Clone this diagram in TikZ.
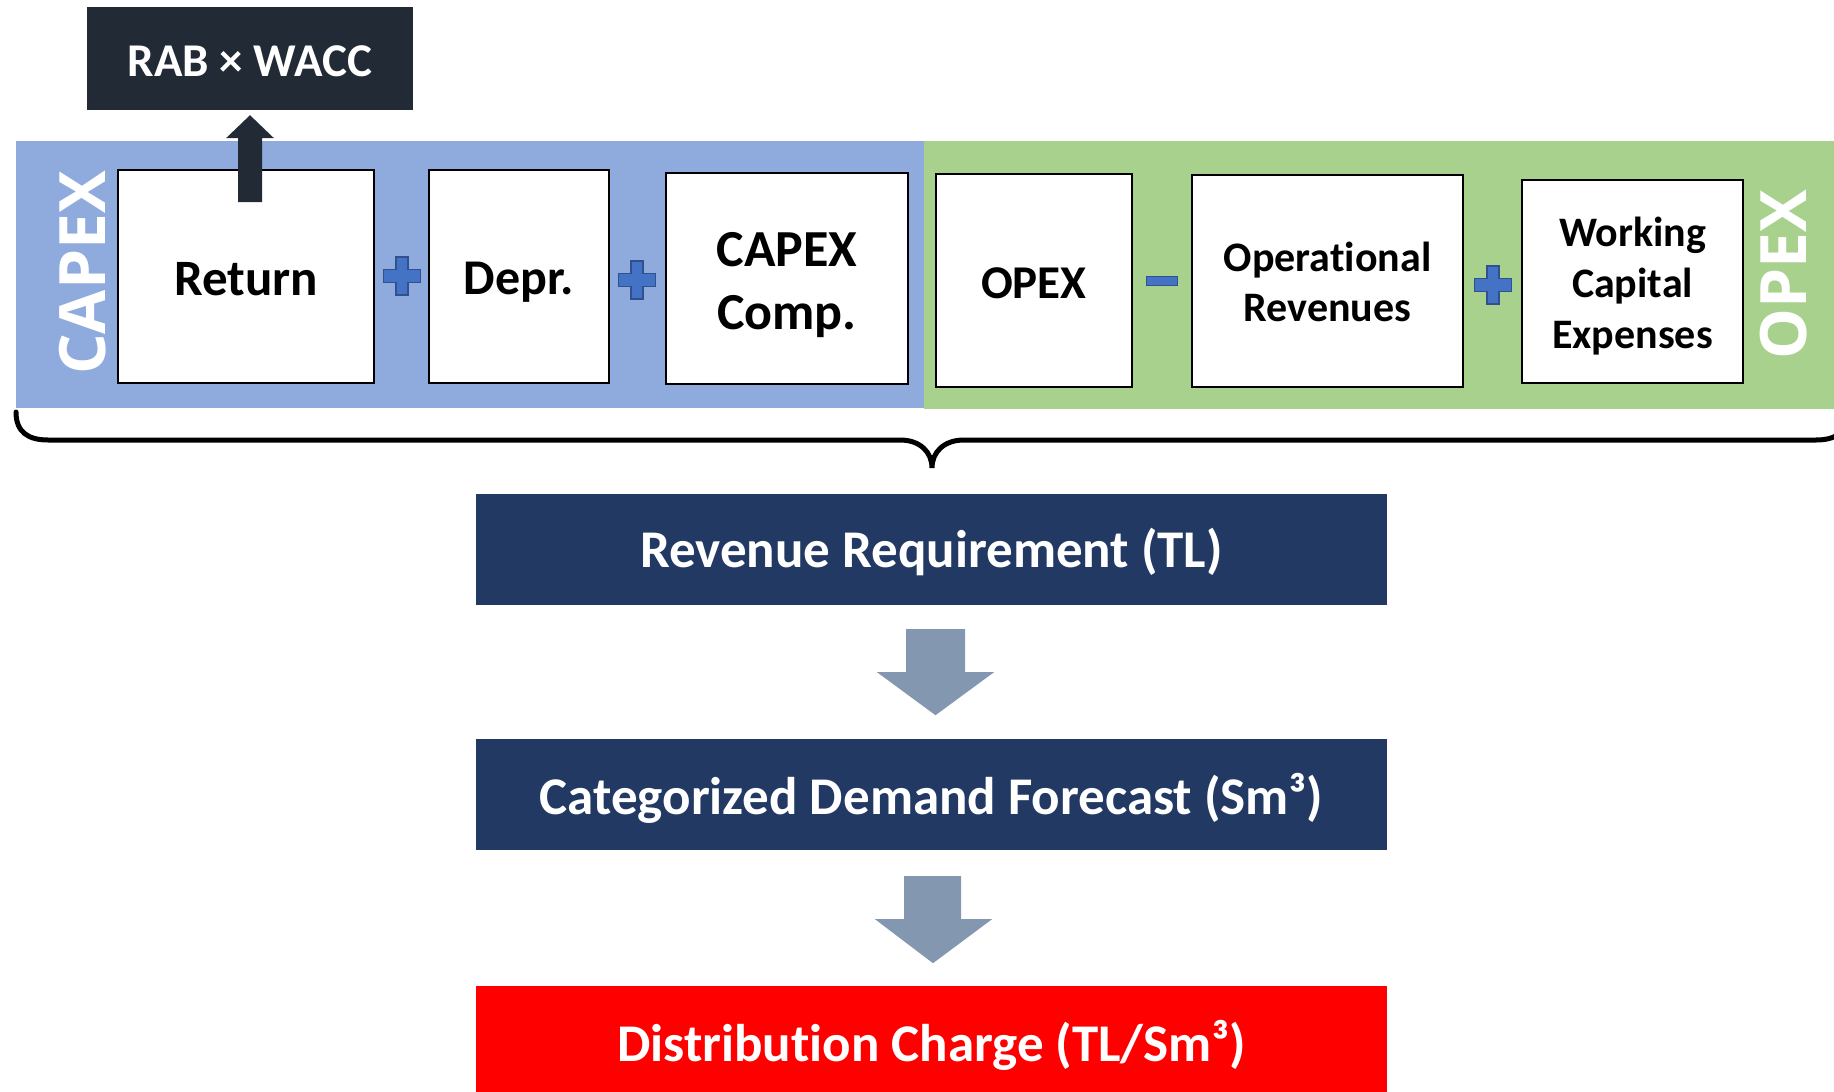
\documentclass[tikz,border=0pt]{standalone}
\usepackage{fontspec}
\setmainfont{Carlito}[Ligatures=NoCommon]
\newfontfamily\labelfont{Open Sans}
\usetikzlibrary{calc}

\definecolor{capexblue}{HTML}{8FAADC}
\definecolor{opexgreen}{HTML}{A9D18E}
\definecolor{navy}{HTML}{223963}
\definecolor{darkslate}{HTML}{222A35}
\definecolor{arrowgray}{HTML}{8497B0}
\definecolor{plusfill}{HTML}{4472C4}
\definecolor{plusedge}{HTML}{2F528F}
\definecolor{chargered}{HTML}{FF0000}

\tikzset{
  termbox/.style={draw=black, line width=2.5pt, fill=white, inner sep=0pt},
  termtext/.style={inner sep=0pt, align=center},
  flowbox/.style={fill=navy, minimum width=911pt, minimum height=111pt, inner sep=0pt},
  flowtext/.style={text=white, inner sep=0pt,
    font=\fontsize{53pt}{64pt}\selectfont\bfseries},
  sidelabel/.style={text=white, rotate=90, inner sep=0pt,
    font=\labelfont\bfseries\fontsize{64pt}{64pt}\selectfont},
  blockarrow/.style={fill=arrowgray},
  brace line/.style={draw=black, line width=5pt, line cap=round},
  plussign/.pic={
    \filldraw[fill=plusfill, draw=plusedge, line width=1.5pt]
      (-6,-19) -- (6,-19) -- (6,-6.5) -- (18.5,-6.5) -- (18.5,6.5) -- (6,6.5)
      -- (6,19) -- (-6,19) -- (-6,6.5) -- (-18.5,6.5) -- (-18.5,-6.5)
      -- (-6,-6.5) -- cycle;
  },
  minussign/.pic={
    \filldraw[fill=plusfill, draw=plusedge, line width=1.5pt]
      (-15.5,-4.5) rectangle (15.5,4.5);
  }
}

\begin{document}
\begin{tikzpicture}[x=1pt, y=-1pt]
  \clip (0,0) rectangle (1834,1092);
  \fill[white] (0,0) rectangle (1834,1092);

  % cost bands
  \fill[capexblue] (16,141) rectangle (924,408);
  \fill[opexgreen] (924,141) rectangle (1834,409);

  \node[sidelabel] (capexlbl) at (83,273) {CAPEX};
  \node[sidelabel] (opexlbl) at (1784,275) {OPEX};

  % capital cost components
  \node[termbox, minimum width=256pt, minimum height=213pt] (ret) at (246,276.5) {};
  \node[termtext, font=\fontsize{51pt}{61pt}\selectfont\bfseries] (ret-t)
    at ($(ret.center)+(0,2.5)$) {Return};
  \node[termbox, minimum width=180pt, minimum height=213pt] (depr) at (519,276.5) {};
  \node[termtext, font=\fontsize{50pt}{60pt}\selectfont\bfseries] (depr-t)
    at ($(depr.center)+(0,6)$) {Depr.};
  \node[termbox, minimum width=242pt, minimum height=211pt] (ccomp) at (787,278.5) {};
  \node[termtext, font=\fontsize{52pt}{63pt}\selectfont\bfseries] (ccomp-t)
    at ($(ccomp.center)+(0,6.5)$) {CAPEX\\Comp.};

  % operating cost components
  \node[termbox, minimum width=196pt, minimum height=213pt] (opex) at (1034,280.5) {};
  \node[termtext, font=\fontsize{47pt}{56pt}\selectfont\bfseries] (opex-t)
    at ($(opex.center)+(0,2.5)$) {OPEX};
  \node[termbox, minimum width=271pt, minimum height=212pt] (oprev) at (1327.5,281) {};
  \node[termtext, font=\fontsize{42pt}{50pt}\selectfont\bfseries] (oprev-t)
    at ($(oprev.center)+(0,1)$) {Operational\\Revenues};
  \node[termbox, minimum width=221pt, minimum height=203pt] (wce) at (1632.5,281.5) {};
  \node[termtext, font=\fontsize{42pt}{51pt}\selectfont\bfseries] (wce-t)
    at ($(wce.center)+(0,5)$) {Working\\Capital\\Expenses};

  % operators between components
  \pic at (402,276) {plussign};
  \pic at (637,280) {plussign};
  \pic at (1162,281) {minussign};
  \pic at (1493,285) {plussign};

  % return on the asset base
  \node[fill=darkslate, minimum width=326pt, minimum height=103pt, inner sep=0pt]
    (rab) at (250,58.5) {};
  \node[text=white, inner sep=0pt, font=\fontsize{47pt}{56pt}\selectfont\bfseries]
    (rab-t) at ($(rab.center)+(0,2.5)$) {RAB × WACC};
  \fill[darkslate] ($(rab.south)+(0,5)$) -- ($(rab.south)+(24,28)$) -- ($(rab.south)+(12,28)$)
     -- ($(rab.south)+(12,92)$) -- ($(rab.south)+(-12,92)$) -- ($(rab.south)+(-12,28)$)
     -- ($(rab.south)+(-24,28)$) -- cycle;

  % brace gathering all components
  \coordinate (bracetip) at (932,468);
  \draw[brace line] (16,412) .. controls (16,432) and (28,440) .. (48,440)
     -- (900,440) .. controls (920,440) and (932,452) .. (bracetip)
     .. controls (932,452) and (944,440) .. (964,440)
     -- (1816,440) .. controls (1836,440) and (1848,432) .. (1848,412);

  % tariff derivation chain
  \node[flowbox] (rev) at (931.5,549.5) {};
  \node[flowtext] (rev-t) at ($(rev.center)+(0,2.5)$) {Revenue Requirement (TL)};
  \node[flowbox] (cat) at (931.5,794.5) {};
  \node[flowtext] (cat-t) at ($(cat.center)+(0,4)$) {Categorized Demand Forecast (Sm³)};
  \node[flowbox, fill=chargered] (dist) at (931.5,1041.5) {};
  \node[flowtext] (dist-t) at ($(dist.center)+(0,4)$) {Distribution Charge (TL/Sm³)};

  \fill[blockarrow] ($(rev.south)+(-25.5,24)$) -- ($(rev.south)+(33.5,24)$)
     -- ($(rev.south)+(33.5,67)$) -- ($(rev.south)+(62.5,67)$) -- ($(rev.south)+(4,110)$)
     -- ($(rev.south)+(-54.5,67)$) -- ($(rev.south)+(-25.5,67)$) -- cycle;
  \fill[blockarrow] ($(cat.south)+(-27.5,26)$) -- ($(cat.south)+(29.5,26)$)
     -- ($(cat.south)+(29.5,69)$) -- ($(cat.south)+(60.5,69)$) -- ($(cat.south)+(1.5,113)$)
     -- ($(cat.south)+(-56.5,69)$) -- ($(cat.south)+(-27.5,69)$) -- cycle;
\end{tikzpicture}
\end{document}
